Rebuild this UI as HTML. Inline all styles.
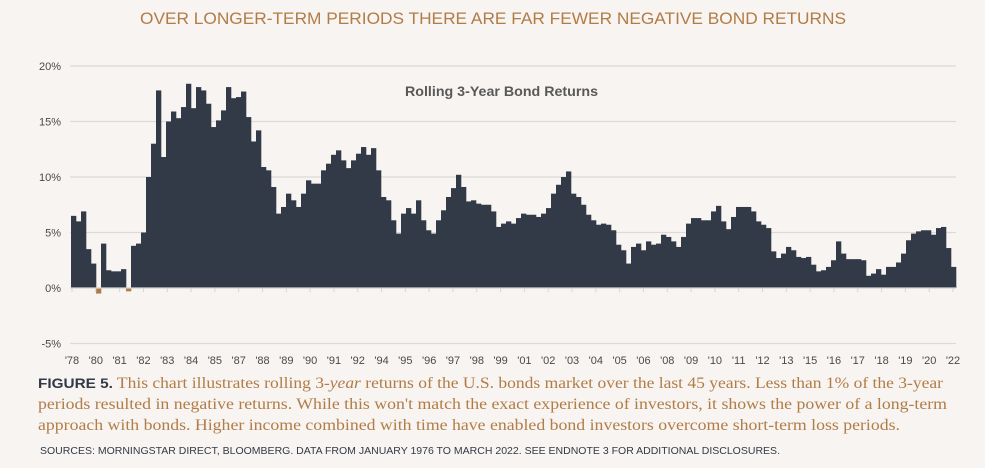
<!DOCTYPE html>
<html><head><meta charset="utf-8"><style>
html,body{margin:0;padding:0;background:#f7f4f1;}
svg{display:block;}
</style></head><body>
<svg id="chart" width="985" height="468" viewBox="0 0 985 468" xmlns="http://www.w3.org/2000/svg">
<rect width="985" height="468" fill="#f7f4f1"/>
<text x="140" y="24" textLength="706" lengthAdjust="spacingAndGlyphs" font-family="Liberation Sans, sans-serif" font-size="17" fill="#b27c46">OVER LONGER-TERM PERIODS THERE ARE FAR FEWER NEGATIVE BOND RETURNS</text>
<text x="405" y="96" textLength="193" lengthAdjust="spacingAndGlyphs" font-family="Liberation Sans, sans-serif" font-weight="bold" font-size="14" fill="#595959">Rolling 3-Year Bond Returns</text>
<g id="grid"></g><g id="bars"></g><g id="axis"></g>
<text x="38" y="388" textLength="905" lengthAdjust="spacingAndGlyphs" font-family="Liberation Serif, serif" font-size="16" fill="#b27c46"><tspan font-family="Liberation Sans, sans-serif" font-weight="bold" font-size="14" fill="#323a47">FIGURE 5.</tspan> This chart illustrates rolling 3-<tspan font-style="italic">year</tspan> returns of the U.S. bonds market over the last 45 years. Less than 1% of the 3-year</text>
<text x="38" y="409" textLength="909" lengthAdjust="spacingAndGlyphs" font-family="Liberation Serif, serif" font-size="16" fill="#b27c46">periods resulted in negative returns. While this won't match the exact experience of investors, it shows the power of a long-term</text>
<text x="38" y="430" textLength="862" lengthAdjust="spacingAndGlyphs" font-family="Liberation Serif, serif" font-size="16" fill="#b27c46">approach with bonds. Higher income combined with time have enabled bond investors overcome short-term loss periods.</text>
<text x="40" y="454" textLength="740" lengthAdjust="spacingAndGlyphs" font-family="Liberation Sans, sans-serif" font-size="10.5" fill="#323a47">SOURCES: MORNINGSTAR DIRECT, BLOOMBERG. DATA FROM JANUARY 1976 TO MARCH 2022.  SEE ENDNOTE 3 FOR ADDITIONAL DISCLOSURES.</text>
</svg>
<script>
const startYear = 1978;
const returnsPct = [6.5,6.0,6.9,3.5,2.2,-0.5,4.0,1.6,1.5,1.5,1.7,-0.3,3.8,4.0,5.0,10.0,13.0,17.8,11.8,15.0,15.9,15.3,16.3,18.4,16.2,18.1,17.8,16.6,14.5,15.1,16.0,18.1,17.1,17.2,17.7,15.4,13.2,14.2,10.9,10.6,9.1,6.7,7.3,8.5,7.9,7.3,8.5,9.7,9.4,9.4,10.6,11.2,12.0,12.4,11.5,10.8,11.5,12.1,12.7,12.0,12.6,10.6,8.2,7.9,6.1,4.9,6.7,7.2,6.7,7.9,6.1,5.2,4.9,6.1,7.0,8.2,9.0,10.2,9.1,7.8,7.9,7.6,7.5,7.5,6.9,5.5,5.8,6.0,5.8,6.3,6.7,6.6,6.6,6.4,6.7,7.2,8.5,9.3,10.0,10.5,8.5,8.2,7.5,6.6,6.1,5.7,5.8,5.7,5.2,3.9,3.4,2.2,3.7,4.0,3.4,4.2,3.9,4.0,4.8,4.6,4.2,3.7,4.6,5.8,6.3,6.3,6.1,6.1,6.9,7.4,6.0,5.3,6.4,7.3,7.3,7.3,6.9,6.0,5.7,5.4,3.3,2.7,3.1,3.7,3.4,2.8,2.7,2.8,2.1,1.5,1.6,1.9,2.5,4.2,3.1,2.6,2.6,2.6,2.5,1.1,1.3,1.7,1.2,1.9,1.9,2.3,3.1,4.3,4.9,5.1,5.2,5.2,4.8,5.4,5.5,3.6,1.9];
const yTicks = [-5,0,5,10,15,20];
const xTickLabels = ["'78","'80","'81","'82","'83","'84","'85","'87","'88","'89","'90","'91","'92","'94","'95","'96","'97","'98","'99","'01","'02","'03","'04","'05","'06","'08","'09","'10","'11","'12","'13","'15","'16","'17","'18","'19","'20","'22"];

const NS='http://www.w3.org/2000/svg';
const X0=71, X1=956, Y0=288, PXPCT=11.1;
const qw=(X1-X0)/returnsPct.length;
const xq=i=>X0+i*qw;
const y=v=>Y0-v*PXPCT;
function mk(tag,attrs,parent){const e=document.createElementNS(NS,tag);for(const k in attrs)e.setAttribute(k,attrs[k]);parent.appendChild(e);return e;}
const grid=document.getElementById('grid'),bars=document.getElementById('bars'),axis=document.getElementById('axis');
yTicks.forEach(t=>{
  if(t!==0){const l=mk('line',{x1:X0-1,x2:X1,y1:y(t),y2:y(t),stroke:'#dcdad7','stroke-width':1.3},grid);
  
  }
  const tx=mk('text',{x:61,y:y(t)+4,'text-anchor':'end','font-family':'Liberation Sans, sans-serif','font-size':11,fill:'#4a4a4a'},axis);
  tx.textContent=t+'%';
  
  
});
returnsPct.forEach((v,i)=>{
  const top=Math.min(y(v),Y0),h=Math.abs(y(v)-Y0);
  const r=mk('rect',{x:xq(i),y:top,width:qw+0.3,height:Math.max(h,0.5),fill:v<0?'#b07c45':'#323a47'},bars);
  
  
});
const base=mk('line',{x1:X0-1,x2:X1,y1:Y0,y2:Y0,stroke:'#d6d4d1','stroke-width':1.3},axis);


const step=(953-72)/(xTickLabels.length-1);
xTickLabels.forEach((lab,i)=>{
  const x=72+i*step;
  const tk=mk('line',{x1:x,x2:x,y1:Y0,y2:Y0+4,stroke:'#d6d4d1','stroke-width':1},axis);
  
  
  const tx=mk('text',{x:x,y:364,'text-anchor':'middle','font-family':'Liberation Sans, sans-serif','font-size':11,fill:'#4a4a4a'},axis);
  tx.textContent=lab;
  
  
});
</script>
</body></html>
